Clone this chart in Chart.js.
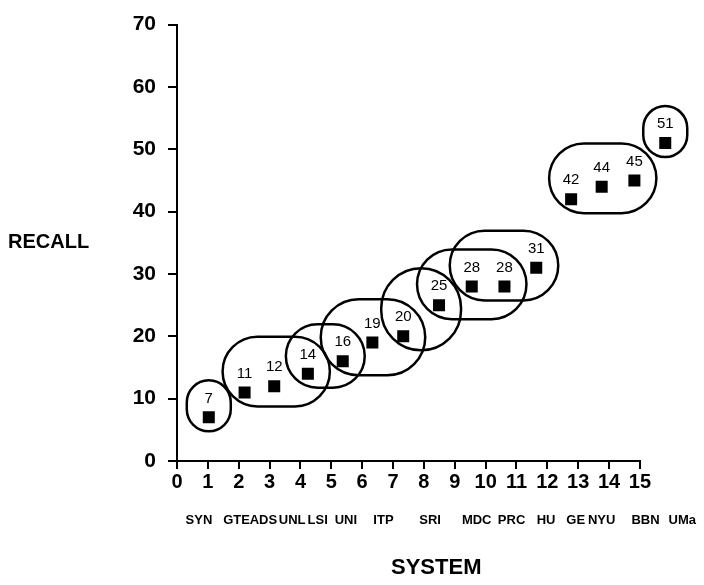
<!DOCTYPE html>
<html>
<head>
<meta charset="utf-8">
<script src="https://cdn.jsdelivr.net/npm/chart.js@4.4.1/dist/chart.umd.min.js"></script>
<style>
  html, body { margin: 0; padding: 0; background: #fff; }
  #wrap { width: 704px; height: 585px; }
</style>
</head>
<body>
<div id="wrap"><canvas id="recallChart" width="704" height="585"></canvas></div>
<script>
// systems, in order of recall
const SYSTEMS = ['SYN', 'GTE', 'ADS', 'UNL', 'LSI', 'UNI', 'ITP', 'SRI', 'MDC', 'PRC', 'HU', 'GE', 'NYU', 'BBN', 'UMa'];
// recall score of each system (printed above each square)
const RECALL = [7, 11, 12, 14, 16, 19, 20, 25, 28, 28, 31, 42, 44, 45, 51];
// where each square sits on the system axis
const SYSTEM_X = [1.03, 2.19, 3.15, 4.24, 5.37, 6.33, 7.33, 8.49, 9.55, 10.61, 11.64, 12.77, 13.76, 14.82, 15.82];
// where each system name sits under the numbered axis
const NAME_X = [0.71, 1.93, 2.8, 3.73, 4.56, 5.47, 6.69, 8.2, 9.71, 10.84, 11.96, 12.92, 13.76, 15.18, 16.37];
// tick labels
const X_TICKS = [0, 1, 2, 3, 4, 5, 6, 7, 8, 9, 10, 11, 12, 13, 14, 15];
const Y_TICKS = [0, 10, 20, 30, 40, 50, 60, 70];
// systems circled together (indexes into SYSTEMS)
const GROUPS = [[0], [1, 2, 3], [3, 4], [4, 5, 6], [6, 7], [7, 8, 9], [8, 9, 10], [11, 12, 13], [14]];

const FONT = '"Liberation Sans", Arial, Helvetica, sans-serif';

// rounded box, ends fully rounded
function stadium(ctx, left, top, w, h) {
    const r = Math.min(w, h) / 2;
    ctx.beginPath();
    ctx.moveTo(left + r, top);
    ctx.arcTo(left + w, top, left + w, top + h, r);
    ctx.arcTo(left + w, top + h, left, top + h, r);
    ctx.arcTo(left, top + h, left, top, r);
    ctx.arcTo(left, top, left + w, top, r);
    ctx.closePath();
    ctx.stroke();
}

// axis line, group outlines, value labels, system names, y title
const overlayPlugin = {
    id: 'overlay',
    afterDatasetsDraw(chart) {
        const { ctx, chartArea, scales: { x, y } } = chart;
        ctx.save();
        ctx.strokeStyle = '#000';

        // x axis only runs up to the last numbered tick
        ctx.lineWidth = 2;
        ctx.beginPath();
        ctx.moveTo(x.getPixelForValue(X_TICKS[0]) - 1, y.getPixelForValue(0));
        ctx.lineTo(x.getPixelForValue(X_TICKS[X_TICKS.length - 1]) + 1, y.getPixelForValue(0));
        ctx.stroke();

        ctx.lineWidth = 2.5;
        GROUPS.forEach(g => {
            const xs = g.map(i => x.getPixelForValue(SYSTEM_X[i]));
            const ys = g.map(i => y.getPixelForValue(RECALL[i]));
            const left = Math.min(...xs) - 22;
            const right = Math.max(...xs) + 22;
            const top = Math.min(...ys) - 37;
            const bottom = Math.max(...ys) + 14;
            stadium(ctx, left, top, right - left, bottom - top);
        });

        ctx.fillStyle = '#000';
        ctx.textAlign = 'center';
        ctx.textBaseline = 'middle';
        ctx.font = '15px ' + FONT;
        RECALL.forEach((v, i) => {
            ctx.fillText(String(v), x.getPixelForValue(SYSTEM_X[i]), y.getPixelForValue(v) - 19);
        });

        ctx.font = 'bold 13px ' + FONT;
        SYSTEMS.forEach((s, i) => {
            ctx.fillText(s, x.getPixelForValue(NAME_X[i]), chartArea.bottom + 59);
        });

        ctx.textAlign = 'left';
        ctx.font = 'bold 20px ' + FONT;
        ctx.fillText('RECALL', 8, y.getPixelForValue((Y_TICKS[0] + Y_TICKS[Y_TICKS.length - 1]) / 2));
        ctx.restore();
    }
};

new Chart(document.getElementById('recallChart'), {
    type: 'scatter',
    data: {
        datasets: [{
            data: SYSTEM_X.map((sx, i) => ({ x: sx, y: RECALL[i] })),
            pointStyle: 'rect',
            pointRadius: 8.5,
            borderWidth: 0,
            backgroundColor: '#000'
        }]
    },
    options: {
        responsive: false,
        animation: false,
        events: [],
        layout: { padding: { top: 16, right: 5, left: 0, bottom: 0 } },
        plugins: { legend: { display: false }, tooltip: { enabled: false } },
        scales: {
            x: {
                type: 'linear',
                min: 0,
                max: 16.8,
                afterBuildTicks: scale => { scale.ticks = X_TICKS.map(v => ({ value: v })); },
                afterFit: scale => { scale.height = 124; },
                border: { display: false },
                grid: { drawOnChartArea: false, drawTicks: true, tickLength: 8, color: '#000', lineWidth: 2 },
                ticks: { color: '#000', padding: 1, maxRotation: 0, autoSkip: false, font: { family: FONT, size: 20, weight: 'bold' } },
                title: { display: true, text: 'SYSTEM', color: '#000', padding: { top: 0, bottom: 4 }, font: { family: FONT, size: 22, weight: 'bold' } }
            },
            y: {
                min: 0,
                max: 70,
                afterBuildTicks: scale => { scale.ticks = Y_TICKS.map(v => ({ value: v })); },
                afterFit: scale => { scale.width = 177; },
                border: { display: true, color: '#000', width: 2 },
                grid: { drawOnChartArea: false, drawTicks: true, tickLength: 9, color: '#000', lineWidth: 2 },
                ticks: { color: '#000', padding: 12, font: { family: FONT, size: 21, weight: 'bold' } }
            }
        }
    },
    plugins: [overlayPlugin]
});
</script>
</body>
</html>
